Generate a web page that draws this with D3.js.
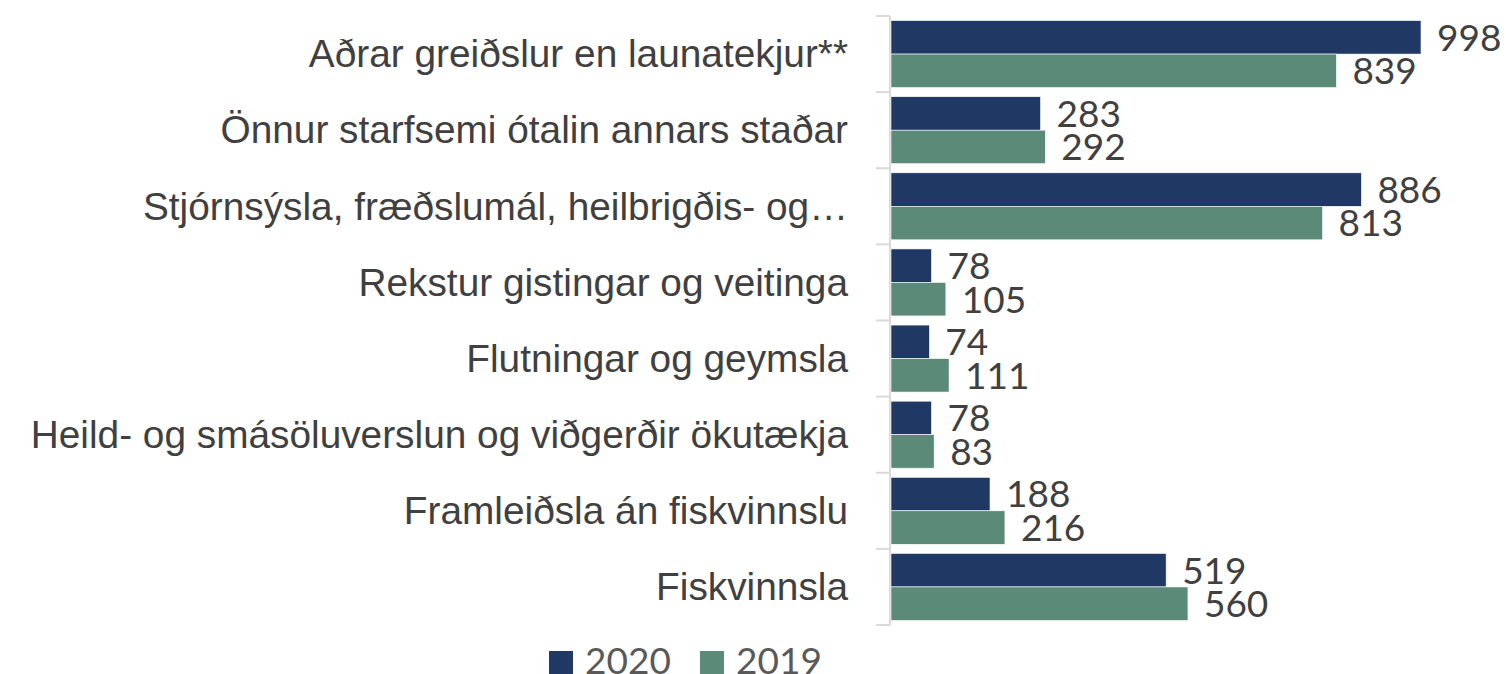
<!DOCTYPE html>
<html>
<head>
<meta charset="utf-8">
<script src="https://cdn.jsdelivr.net/npm/d3@7"></script>
<style>
  body { margin: 0; background: #fff; }
  svg { display: block; font-family: Lato, "Open Sans", sans-serif; }
</style>
</head>
<body>
<div id="chart"></div>
<script>
const categories = [
  'Aðrar greiðslur en launatekjur**',
  'Önnur starfsemi ótalin annars staðar',
  'Stjórnsýsla, fræðslumál, heilbrigðis- og…',
  'Rekstur gistingar og veitinga',
  'Flutningar og geymsla',
  'Heild- og smásöluverslun og viðgerðir ökutækja',
  'Framleiðsla án fiskvinnslu',
  'Fiskvinnsla'
];
const values2020 = [998, 283, 886, 78, 74, 78, 188, 519];
const values2019 = [839, 292, 813, 105, 111, 83, 216, 560];
const seriesNames = ['2020', '2019'];
const colors = ['#203864', '#5b8a78'];

const width = 1506, height = 674;
const margin = { top: 16, right: 85, bottom: 49, left: 890 };

const svg = d3.select('#chart').append('svg')
  .attr('width', width)
  .attr('height', height);

const x = d3.scaleLinear()
  .domain([0, 998])
  .range([margin.left, 1421]);

const y = d3.scaleBand()
  .domain(categories)
  .range([margin.top, height - margin.bottom])
  .paddingInner(0.12)
  .paddingOuter(0.06);

const inner = d3.scaleBand()
  .domain(seriesNames)
  .range([0, y.bandwidth()]);

const series = [values2020, values2019];

// category axis
const axis = svg.append('g')
  .attr('transform', `translate(${margin.left},0)`)
  .call(d3.axisLeft(
      d3.scaleBand().domain(categories).range([margin.top, height - margin.bottom]))
    .tickSize(0).tickPadding(42));

axis.select('.domain').remove();
axis.selectAll('text')
  .attr('fill', '#404040')
  .style('font-size', '38.8px')
  .attr('dy', '0.34em');

// boundary ticks
const step = (height - margin.bottom - margin.top) / categories.length;
const bounds = d3.range(categories.length + 1).map(i => margin.top + i * step);
svg.append('line')
  .attr('x1', margin.left).attr('x2', margin.left)
  .attr('y1', bounds[0]).attr('y2', bounds[bounds.length - 1])
  .attr('stroke', '#d9d9d9').attr('stroke-width', 2);
svg.selectAll('.btick')
  .data(bounds)
  .enter().append('line')
  .attr('class', 'btick')
  .attr('x1', margin.left - 14).attr('x2', margin.left)
  .attr('y1', d => d).attr('y2', d => d)
  .attr('stroke', '#d9d9d9').attr('stroke-width', 2);

// bars + labels
seriesNames.forEach((name, si) => {
  const g = svg.append('g');
  g.selectAll('rect')
    .data(categories)
    .enter().append('rect')
    .attr('x', x(0) + 1)
    .attr('y', c => y(c) + inner(name))
    .attr('width', (c, i) => x(series[si][i]) - x(0) - 1)
    .attr('height', inner.bandwidth())
    .attr('fill', colors[si])
    .attr('stroke', '#ffffff')
    .attr('stroke-width', 0.6);

  g.selectAll('text')
    .data(categories)
    .enter().append('text')
    .attr('x', (c, i) => x(series[si][i]) + 16)
    .attr('y', c => y(c) + inner(name) + inner.bandwidth() / 2)
    .attr('dy', '0.36em')
    .attr('fill', '#404040')
    .style('font-size', '37px')
    .text((c, i) => series[si][i]);
});

// legend
const legend = svg.append('g');
const legendX = [549, 700];
seriesNames.forEach((name, i) => {
  legend.append('rect')
    .attr('x', legendX[i]).attr('y', 651)
    .attr('width', 24).attr('height', 24)
    .attr('fill', colors[i]);
  legend.append('text')
    .attr('x', legendX[i] + 36).attr('y', 674)
    .attr('fill', '#595959')
    .style('font-size', '37px')
    .text(name);
});
</script>
</body>
</html>
